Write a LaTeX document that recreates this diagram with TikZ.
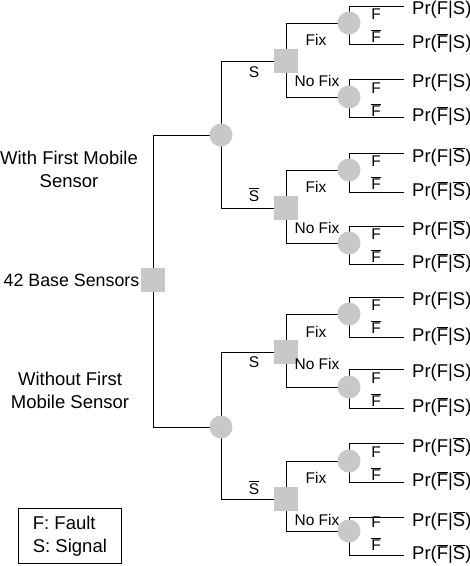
\documentclass[tikz,border=0pt]{standalone}
\usepackage{fontspec}
\setmainfont{Liberation Sans}
\usetikzlibrary{backgrounds}
\newcommand{\ovl}[1]{\vbox{\hrule height 0.8pt\kern 1.3pt\hbox{#1}}}
\definecolor{nodegray}{RGB}{200,200,200}
\tikzset{
  chance/.style={circle, fill=nodegray, minimum size=23pt, inner sep=0pt},
  decision/.style={rectangle, fill=nodegray, minimum size=23.5pt, inner sep=0pt},
  branch/.style={line width=1pt, black},
  prob/.style={anchor=west, font=\fontsize{18.5}{22}\selectfont, inner sep=0pt},
  lab/.style={font=\fontsize{15.5}{18}\selectfont, inner sep=0pt},
  side/.style={font=\fontsize{18.5}{23}\selectfont, align=center, inner sep=0pt},
  legend/.style={draw, line width=0.8pt, align=left, font=\fontsize{18.5}{23}\selectfont, inner xsep=8pt, inner ysep=3pt, anchor=north west, minimum width=103pt, minimum height=55pt},
}
\begin{document}
\begin{tikzpicture}[x=1pt,y=-1pt]
\useasboundingbox (0,0) rectangle (470,566);
% main nodes
\node[decision] (R) at (153,280) {};
\node[chance] (C1) at (221,135) {};
\node[chance] (C2) at (221,427) {};
\node[decision] (SA) at (286,61) {};
\node[decision] (SB) at (286,208) {};
\node[decision] (SC) at (286,352) {};
\node[decision] (SD) at (286,499) {};
\foreach \n/\cy in {1/23,2/97,3/170,4/243,5/314,6/387,7/461,8/531}
  \node[chance] (L\n) at (349,\cy) {};
% connectors
\begin{scope}[on background layer]
  \draw[branch] (R.center) |- (C1.center);
  \draw[branch] (R.center) |- (C2.center);
  \draw[branch] (C1.center) |- (SA.center);
  \draw[branch] (C1.center) |- (SB.center);
  \draw[branch] (C2.center) |- (SC.center);
  \draw[branch] (C2.center) |- (SD.center);
  \draw[branch] (SA.center) |- (L1.center);
  \draw[branch] (SA.center) |- (L2.center);
  \draw[branch] (SB.center) |- (L3.center);
  \draw[branch] (SB.center) |- (L4.center);
  \draw[branch] (SC.center) |- (L5.center);
  \draw[branch] (SC.center) |- (L6.center);
  \draw[branch] (SD.center) |- (L7.center);
  \draw[branch] (SD.center) |- (L8.center);
\end{scope}
% leaves
\foreach \n/\cy/\ya/\yb/\s in {1/23/6/44/S, 2/97/79/117/S, 3/170/153/192/{\ovl{S}}, 4/243/226/264/{\ovl{S}}, 5/314/297/337/S, 6/387/369/408/S, 7/461/443/482/{\ovl{S}}, 8/531/517/555/{\ovl{S}}}{
  \coordinate (ta\n) at (404,\ya);
  \coordinate (tb\n) at (404,\yb);
  \begin{scope}[on background layer]
    \draw[branch] (L\n.center) |- (ta\n);
    \draw[branch] (L\n.center) |- (tb\n);
  \end{scope}
  \node[prob] (pa\n) at (412,\ya+4) {Pr(F|\s)};
  \node[prob] (pb\n) at (412,\yb-1) {Pr(\ovl{F}|\s)};
  \node[lab, anchor=base] (fa\n) at (376,\cy-3.5) {F};
  \node[lab, anchor=base] (fb\n) at (376,\cy+19.5) {\ovl{F}};
}
% branch labels
\node[lab] (sa) at (254,72) {S};
\node[lab] (sb) at (254,195) {\ovl{S}};
\node[lab] (sc) at (254,362) {S};
\node[lab] (sd) at (254,488) {\ovl{S}};
\node[lab] (fixa) at (316,40) {Fix};
\node[lab] (nfa) at (317,81) {No Fix};
\node[lab] (fixb) at (316,187) {Fix};
\node[lab] (nfb) at (317,228) {No Fix};
\node[lab] (fixc) at (316,332) {Fix};
\node[lab] (nfc) at (317,364) {No Fix};
\node[lab] (fixd) at (316,478) {Fix};
\node[lab] (nfd) at (317,520) {No Fix};
% side texts
\node[side, font=\fontsize{17.8}{23}\selectfont] (base) [anchor=east] at (139.5,280) {42 Base Sensors};
\node[side] (with) at (69,169) {With First Mobile\\Sensor};
\node[side] (without) at (70,390) {Without First\\Mobile Sensor};
\node[legend] (leg) at (18,508) {F: Fault\\S: Signal};
\end{tikzpicture}
\end{document}
